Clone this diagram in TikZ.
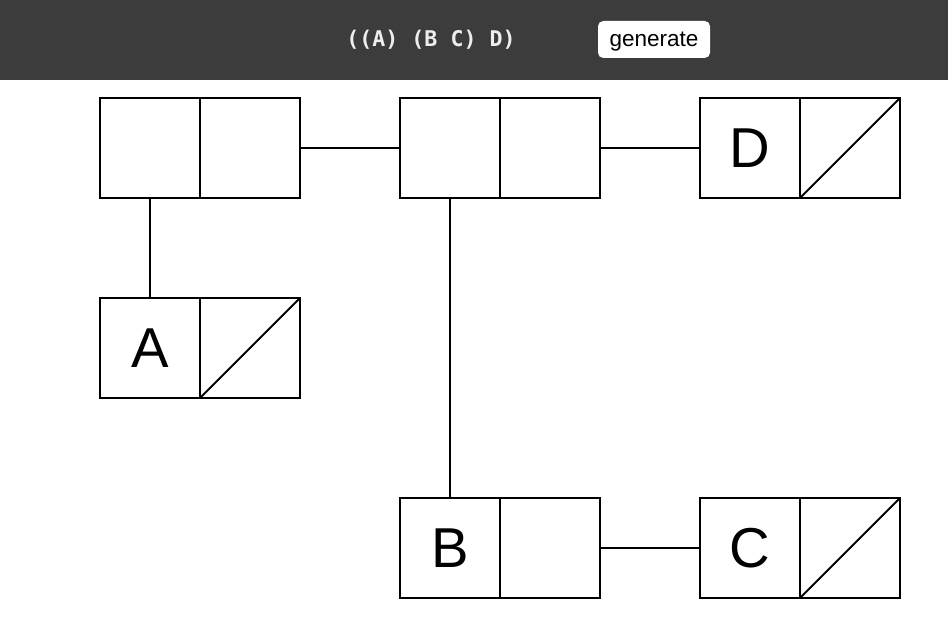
\documentclass[tikz,border=0pt]{standalone}
\usepackage{fontspec}
\setmainfont{Liberation Sans}
\newfontfamily\codefont{DejaVu Sans Mono}
\usepackage{xcolor}
\usetikzlibrary{positioning}
\definecolor{headerbg}{RGB}{60, 60, 60}
\definecolor{headertext}{RGB}{238, 238, 238}

\begin{document}
\begin{tikzpicture}[
    node distance=0cm,
    cell/.style={
        rectangle,
        draw=black,
        line width=1.1pt,
        minimum size=2cm,
        outer sep=0pt,
        inner sep=0pt,
        font=\fontsize{32}{38}\selectfont
    },
    link/.style={
        draw=black,
        line width=1.1pt
    },
    nil/.style={
        draw=black,
        line width=1.1pt
    },
    code/.style={
        font=\codefont\bfseries\fontsize{12.3}{14}\selectfont,
        text=headertext
    },
    button/.style={
        rectangle,
        rounded corners=3pt,
        fill=white,
        minimum width=2.24cm,
        minimum height=0.74cm,
        font=\fontsize{12.8}{14}\selectfont
    }
]

% Background and header bar
\useasboundingbox (0,0) rectangle (18.96,12.4);
\fill[white] (0,0) rectangle (18.96,12.4);
\fill[headerbg] (0,10.8) rectangle (18.96,12.4);
\node[code] (expr) at (8.62,11.6) {((A) (B C) D)};
\node[button] (gen) at (13.08,11.61) {};
\node (gentext) at ([yshift=-0.04cm]gen.center) {\fontsize{12.8}{14}\selectfont generate};

% Top row of pairs
\node[cell] (p1car) at (3,9.44) {};
\node[cell, right=of p1car] (p1cdr) {};
\node[cell] (p2car) at (9,9.44) {};
\node[cell, right=of p2car] (p2cdr) {};
\node[cell] (dcar) at (15,9.44) {D};
\node[cell, right=of dcar] (dcdr) {};

% Middle pair
\node[cell] (acar) at (3,5.44) {A};
\node[cell, right=of acar] (acdr) {};

% Bottom row
\node[cell] (bcar) at (9,1.44) {B};
\node[cell, right=of bcar] (bcdr) {};
\node[cell] (ccar) at (15,1.44) {C};
\node[cell, right=of ccar] (ccdr) {};

% Empty list ends
\draw[nil] (dcdr.south west) -- (dcdr.north east);
\draw[nil] (acdr.south west) -- (acdr.north east);
\draw[nil] (ccdr.south west) -- (ccdr.north east);

% Connections
\draw[link] (p1cdr.east) -- (p2car.west);
\draw[link] (p2cdr.east) -- (dcar.west);
\draw[link] (p1car.south) -- (acar.north);
\draw[link] (p2car.south) -- (bcar.north);
\draw[link] (bcdr.east) -- (ccar.west);

\end{tikzpicture}
\end{document}
